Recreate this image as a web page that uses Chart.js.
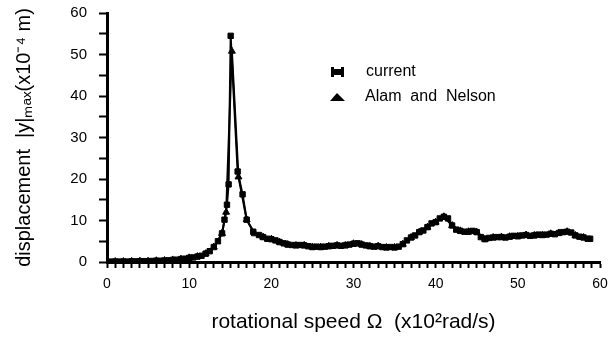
<!DOCTYPE html>
<html>
<head>
<meta charset="utf-8">
<script src="https://cdn.jsdelivr.net/npm/chart.js@4"></script>
<style>
  body { margin: 0; background: #fff; }
</style>
</head>
<body>
<canvas id="grafico" width="608" height="337"></canvas>
<script>
// rotational speed (x10^2 rad/s) and displacement (x10^-4 m)
var speedCurrent = [0.5, 1, 1.5, 2, 2.5, 3, 3.5, 4, 4.5, 5, 5.5, 6, 6.5, 7, 7.5, 8, 8.5, 9, 9.5, 10,
  10.5, 11, 11.5, 12, 12.5, 13, 13.5, 14, 14.3, 14.6, 14.8, 15.05, 15.9, 16.5, 17, 17.8, 18.5, 19, 19.5, 20,
  20.5, 21, 21.5, 22, 22.5, 23, 23.5, 24, 24.5, 25, 25.5, 26, 26.5, 27, 27.5, 28, 28.5, 29, 29.5, 30,
  30.5, 31, 31.5, 32, 32.5, 33, 33.5, 34, 34.5, 35, 35.5, 36, 36.5, 37, 37.5, 38, 38.5, 39, 39.5, 40,
  40.5, 41, 41.5, 42, 42.5, 43, 43.5, 44, 44.5, 45, 45.5, 46, 46.5, 47, 47.5, 48, 48.5, 49, 49.5, 50,
  50.5, 51, 51.5, 52, 52.5, 53, 53.5, 54, 54.5, 55, 55.5, 56, 56.5, 57, 57.5, 58, 58.5, 58.8];
var dispCurrent = [0.1, 0.1, 0.1, 0.1, 0.1, 0.15, 0.15, 0.2, 0.2, 0.2, 0.25, 0.3, 0.3, 0.35, 0.4, 0.5, 0.55, 0.7, 0.8, 1.0,
  1.1, 1.3, 1.5, 2.0, 2.6, 3.6, 5.0, 6.9, 10.2, 13.8, 18.7, 54.5, 21.8, 16.3, 10.2, 7.3, 6.5, 6.0, 5.6, 5.5,
  5.2, 4.8, 4.5, 4.2, 4.1, 4.0, 4.1, 4.0, 3.8, 3.6, 3.7, 3.6, 3.7, 3.8, 3.9, 4.0, 3.9, 4.0, 4.2, 4.4,
  4.5, 4.2, 4.0, 3.8, 3.7, 3.8, 3.6, 3.5, 3.6, 3.5, 3.7, 4.3, 5.2, 5.9, 6.4, 7.2, 7.6, 8.4, 9.3, 9.6,
  10.5, 10.9, 10.5, 8.8, 7.8, 7.5, 7.3, 7.3, 7.5, 7.2, 6.0, 5.5, 5.8, 5.9, 6.0, 6.0, 5.9, 6.1, 6.3, 6.2,
  6.4, 6.5, 6.3, 6.4, 6.6, 6.5, 6.6, 6.8, 6.7, 7.0, 7.2, 7.3, 7.1, 6.4, 6.1, 5.9, 5.6, 5.6];

var speedAlam = [1, 2, 3, 4, 5, 6, 7, 8, 9, 10, 11, 12, 13, 14, 14.5, 15.2, 16, 17, 18, 19, 20, 21, 22, 23, 24, 25,
  26, 27, 28, 29, 30, 31, 32, 33, 34, 35, 36, 37, 38, 39, 40, 41, 42, 43, 44, 45, 46, 47, 48, 49, 50,
  51, 52, 53, 54, 55, 56, 57, 58];
var dispAlam = [0.1, 0.1, 0.15, 0.2, 0.2, 0.3, 0.35, 0.5, 0.7, 1.0, 1.3, 2.0, 3.6, 6.9, 12.0, 50.8, 20.5, 10.2, 6.8, 6.0, 5.5, 4.8, 4.2, 4.0, 4.0, 3.6,
  3.6, 3.8, 4.0, 4.0, 4.4, 4.2, 3.8, 3.8, 3.5, 3.5, 4.3, 5.9, 7.2, 8.4, 9.6, 10.9, 8.8, 7.5, 7.3, 7.2, 5.5, 5.9, 6.0, 6.1, 6.2,
  6.5, 6.4, 6.5, 6.8, 7.0, 7.3, 6.4, 5.9];

var seriesNames = ['current', 'Alam and Nelson'];

function pares(xs, ys) {
  var out = [];
  for (var i = 0; i < xs.length; i++) out.push({ x: xs[i], y: ys[i] });
  return out;
}

var fonte = '"Liberation Sans", Arial, Helvetica, sans-serif';

// legend drawn inside the plot area, like the original figure
var legendaPlugin = {
  id: 'legenda',
  afterDraw: function (chart) {
    var ctx = chart.ctx;
    ctx.save();
    ctx.fillStyle = '#000';
    // current marker
    ctx.fillRect(333, 69, 9, 6);
    ctx.fillRect(331, 67, 3, 10);
    ctx.fillRect(341, 67, 3, 10);
    // Alam and Nelson marker
    ctx.beginPath();
    ctx.moveTo(330, 101);
    ctx.lineTo(337, 93);
    ctx.lineTo(345, 101);
    ctx.closePath();
    ctx.fill();
    ctx.font = '16px ' + fonte;
    ctx.textBaseline = 'middle';
    ctx.fillText(seriesNames[0], 366, 72);
    ctx.fillText('Alam  and  Nelson', 365, 97);
    ctx.restore();
  }
};

const ctx = document.getElementById('grafico');

const myChart = new Chart(ctx, {
  type: 'scatter',
  data: {
    datasets: [{
      label: seriesNames[1],
      data: pares(speedAlam, dispAlam),
      showLine: true,
      borderColor: '#000',
      borderWidth: 2,
      backgroundColor: '#000',
      pointStyle: 'triangle',
      pointRadius: 4,
      pointBorderWidth: 1
    }, {
      label: seriesNames[0],
      data: pares(speedCurrent, dispCurrent),
      showLine: true,
      borderColor: '#000',
      borderWidth: 2,
      backgroundColor: '#000',
      pointStyle: 'rect',
      pointRadius: 3.8,
      pointBorderWidth: 1
    }]
  },
  options: {
    responsive: false,
    animation: false,
    layout: { padding: { top: 13, right: 8, left: 0, bottom: 0 } },
    plugins: {
      legend: { display: false },
      tooltip: { enabled: false }
    },
    scales: {
      x: {
        type: 'linear',
        min: 0,
        max: 60,
        afterFit: function (s) {
          s.height = 75;
          s.paddingLeft = 0;
          s.paddingRight = 0;
        },
        ticks: {
          stepSize: 1,
          maxTicksLimit: 100,
          autoSkip: false,
          maxRotation: 0,
          color: '#000',
          padding: 8,
          font: { family: fonte, size: 14 },
          callback: function (v) { return v % 10 === 0 ? v : ' '; }
        },
        grid: { drawOnChartArea: false, tickLength: 6, tickColor: '#000', tickWidth: 2 },
        border: { color: '#000', width: 3 },
        title: {
          display: true,
          text: 'rotational speed Ω  (x10²rad/s)',
          color: '#000',
          font: { family: fonte, size: 21 },
          padding: { top: 6, bottom: 2 }
        }
      },
      y: {
        min: 0,
        max: 60,
        afterFit: function (s) {
          s.width = 107;
          s.paddingTop = 0;
          s.paddingBottom = 0;
        },
        ticks: {
          stepSize: 5,
          maxTicksLimit: 100,
          autoSkip: false,
          color: '#000',
          padding: 12,
          font: { family: fonte, size: 15 },
          callback: function (v) { return v % 10 === 0 ? v : ''; }
        },
        grid: { drawOnChartArea: false, tickLength: 8, tickColor: '#000', tickWidth: 2 },
        border: { color: '#000', width: 3 },
        title: {
          display: true,
          text: 'displacement  |y|ₘₐₓ(x10⁻⁴ m)',
          color: '#000',
          font: { family: fonte, size: 20 },
          padding: { top: 12, bottom: 0 }
        }
      }
    }
  },
  plugins: [legendaPlugin]
});
</script>
</body>
</html>
